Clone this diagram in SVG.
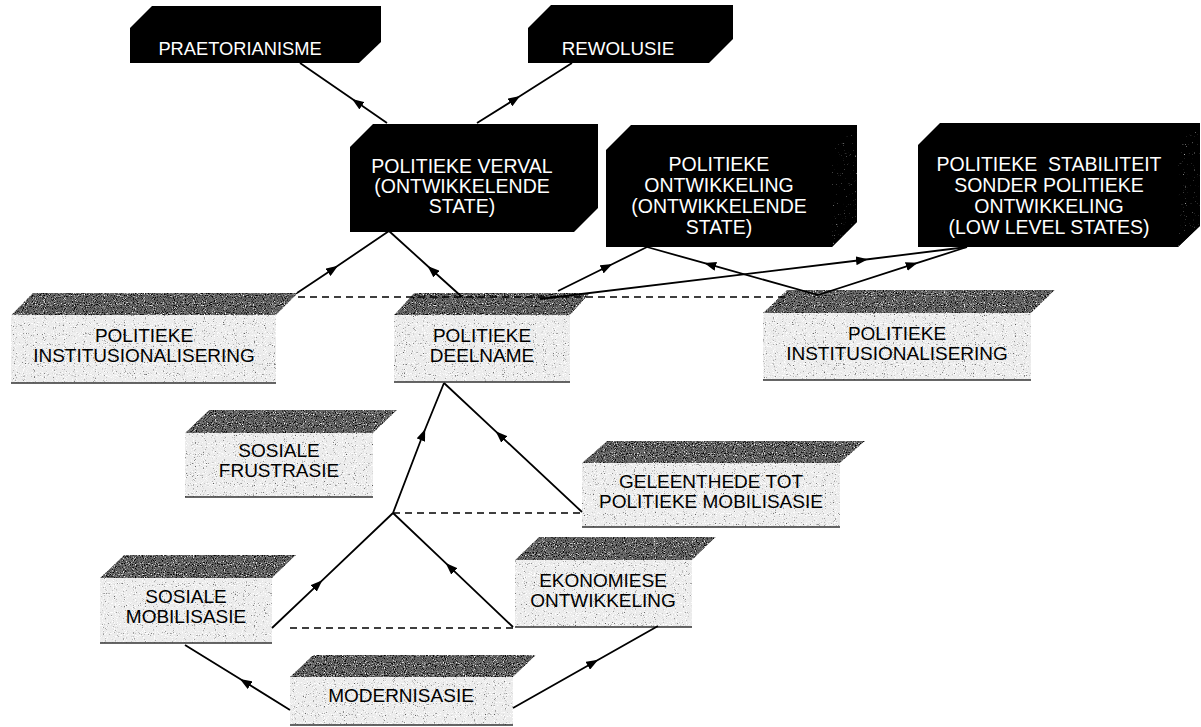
<svg xmlns="http://www.w3.org/2000/svg" width="1201" height="727" viewBox="0 0 1201 727">
<defs>
<style>
.bg{fill:#fff}
.blk{fill:#000}
.side{fill:#000;filter:url(#spS)}
.top{fill:#676767;filter:url(#spD)}
.front{fill:#ebebeb;filter:url(#spL)}
.edge{stroke:#333;stroke-width:1.6;fill:none}
.wt{font-family:"Liberation Sans",Arial,sans-serif;font-size:19.5px;fill:#fff;text-anchor:middle}
.gt{font-family:"Liberation Sans",Arial,sans-serif;font-size:19px;fill:#000;text-anchor:middle}
.con{stroke:#000;stroke-width:1.8;fill:none;marker-mid:url(#arr)}
.dash{stroke:#000;stroke-width:1.5;fill:none;stroke-dasharray:7 5}
</style>
<marker id="arr" viewBox="0 0 12 9" refX="6" refY="4.5" markerWidth="12" markerHeight="9" markerUnits="userSpaceOnUse" orient="auto">
<path d="M0,0 L12,4.5 L0,9 z" fill="#000"/>
</marker>
<filter id="spL" color-interpolation-filters="sRGB">
<feTurbulence type="fractalNoise" baseFrequency="0.9" numOctaves="1" seed="4" result="n"/>
<feColorMatrix in="n" type="matrix" values="0 0 0 0 0.35  0 0 0 0 0.35  0 0 0 0 0.35  6 0 0 0 -3.8" result="d"/>
<feColorMatrix in="n" type="matrix" values="0 0 0 0 1  0 0 0 0 1  0 0 0 0 1  0 6 0 0 -3.2" result="w"/>
<feMerge result="m"><feMergeNode in="SourceGraphic"/><feMergeNode in="w"/><feMergeNode in="d"/></feMerge>
<feComposite in="m" in2="SourceGraphic" operator="in"/>
</filter>
<filter id="spD" color-interpolation-filters="sRGB">
<feTurbulence type="fractalNoise" baseFrequency="0.9" numOctaves="1" seed="7" result="n"/>
<feColorMatrix in="n" type="matrix" values="0 0 0 0 0  0 0 0 0 0  0 0 0 0 0  5 0 0 0 -2.5" result="b"/>
<feColorMatrix in="n" type="matrix" values="0 0 0 0 1  0 0 0 0 1  0 0 0 0 1  0 5 0 0 -2.9" result="w"/>
<feMerge result="m"><feMergeNode in="SourceGraphic"/><feMergeNode in="b"/><feMergeNode in="w"/></feMerge>
<feComposite in="m" in2="SourceGraphic" operator="in"/>
</filter>
<filter id="spS" color-interpolation-filters="sRGB">
<feTurbulence type="fractalNoise" baseFrequency="0.9" numOctaves="1" seed="11" result="n"/>
<feColorMatrix in="n" type="matrix" values="0 0 0 0 0.7  0 0 0 0 0.7  0 0 0 0 0.7  6 0 0 0 -4.1" result="w"/>
<feMerge result="m"><feMergeNode in="SourceGraphic"/><feMergeNode in="w"/></feMerge>
<feComposite in="m" in2="SourceGraphic" operator="in"/>
</filter>
</defs>
<rect class="bg" x="0" y="0" width="1201" height="727"/>

<g id="praetorianisme">
<polygon class="blk" points="130,28 152,6 381,6 381,42 359,63 130,63"/>
<text class="wt" x="240" y="55" style="font-size:18.3px">PRAETORIANISME</text>
</g>
<g id="rewolusie">
<polygon class="blk" points="528,28 551,5 733,5 733,39 709,63 528,63"/>
<text class="wt" x="618" y="55" style="font-size:18.8px">REWOLUSIE</text>
</g>
<g id="politieke-verval">
<polygon class="blk" points="350,147 373,124 598,124 598,208 574,232 350,232"/>
<text class="wt" x="462" y="173">POLITIEKE VERVAL</text>
<text class="wt" x="462" y="193">(ONTWIKKELENDE</text>
<text class="wt" x="462" y="213">STATE)</text>
</g>
<g id="politieke-ontwikkeling">
<polygon class="blk" points="606,150 631,125 857,125 857,222 832,247 606,247"/>
<polygon class="side" points="832,150 857,125 857,222 832,247"/>
<text class="wt" x="719" y="171">POLITIEKE</text>
<text class="wt" x="719" y="192">ONTWIKKELING</text>
<text class="wt" x="719" y="213">(ONTWIKKELENDE</text>
<text class="wt" x="719" y="234">STATE)</text>
</g>
<g id="politieke-stabiliteit">
<polygon class="blk" points="918,145 940,123 1200,123 1200,226 1178,247 918,247"/>
<polygon class="side" points="1178,145 1200,123 1200,226 1178,247"/>
<text class="wt" x="1049" y="171" xml:space="preserve">POLITIEKE  STABILITEIT</text>
<text class="wt" x="1049" y="192">SONDER POLITIEKE</text>
<text class="wt" x="1049" y="213">ONTWIKKELING</text>
<text class="wt" x="1049" y="234">(LOW LEVEL STATES)</text>
</g>

<g id="politieke-institusionalisering-links">
<polygon class="top" points="11,315 33,293 298,293 276,315"/>
<rect class="front" x="11" y="315" width="265" height="68"/>
<line class="edge" x1="11" y1="383" x2="276" y2="383"/>
<text class="gt" x="144" y="342">POLITIEKE</text>
<text class="gt" x="144" y="362">INSTITUSIONALISERING</text>
</g>
<g id="politieke-deelname">
<polygon class="top" points="394,315 414,293 590,293 570,315"/>
<rect class="front" x="394" y="315" width="176" height="67"/>
<line class="edge" x1="394" y1="382" x2="570" y2="382"/>
<text class="gt" x="482" y="342">POLITIEKE</text>
<text class="gt" x="482" y="362">DEELNAME</text>
</g>
<g id="politieke-institusionalisering-regs">
<polygon class="top" points="763,313 787,290 1055,290 1031,313"/>
<rect class="front" x="763" y="313" width="268" height="67"/>
<line class="edge" x1="763" y1="380" x2="1031" y2="380"/>
<text class="gt" x="897" y="340">POLITIEKE</text>
<text class="gt" x="897" y="360">INSTITUSIONALISERING</text>
</g>
<g id="sosiale-frustrasie">
<polygon class="top" points="185,433 209,410 397,410 373,433"/>
<rect class="front" x="185" y="433" width="188" height="64"/>
<line class="edge" x1="185" y1="497" x2="373" y2="497"/>
<text class="gt" x="279" y="457">SOSIALE</text>
<text class="gt" x="279" y="477">FRUSTRASIE</text>
</g>
<g id="geleenthede-tot-politieke-mobilisasie">
<polygon class="top" points="582,463 607,441 865,441 840,463"/>
<rect class="front" x="582" y="463" width="258" height="64"/>
<line class="edge" x1="582" y1="527" x2="840" y2="527"/>
<text class="gt" x="711" y="488">GELEENTHEDE TOT</text>
<text class="gt" x="711" y="508">POLITIEKE MOBILISASIE</text>
</g>
<g id="ekonomiese-ontwikkeling">
<polygon class="top" points="515,560 539,537 716,537 692,560"/>
<rect class="front" x="515" y="560" width="177" height="67"/>
<line class="edge" x1="515" y1="627" x2="692" y2="627"/>
<text class="gt" x="603" y="587">EKONOMIESE</text>
<text class="gt" x="603" y="607">ONTWIKKELING</text>
</g>
<g id="sosiale-mobilisasie">
<polygon class="top" points="100,578 124,555 296,555 272,578"/>
<rect class="front" x="100" y="578" width="172" height="65"/>
<line class="edge" x1="100" y1="643" x2="272" y2="643"/>
<text class="gt" x="186" y="603">SOSIALE</text>
<text class="gt" x="186" y="623">MOBILISASIE</text>
</g>
<g id="modernisasie">
<polygon class="top" points="290,677 313,655 536,655 513,677"/>
<rect class="front" x="290" y="677" width="223" height="48"/>
<line class="edge" x1="290" y1="725" x2="513" y2="725"/>
<text class="gt" x="401" y="702">MODERNISASIE</text>
</g>

<g id="connectors">
<path class="con" d="M387,123 L357,102.3 L300,63"/>
<path class="con" d="M477,123 L515,99.3 L572,63"/>
<path class="con" d="M297,293 L333,269 L389,231"/>
<path class="con" d="M462,297 L432,270 L389,231"/>
<path class="con" d="M558,291 L607,266.7 L647,247"/>
<path class="con" d="M818,295 L710,264.7 L647,247"/>
<path class="con" d="M540,299 L862,260 L967,247"/>
<path class="con" d="M818,295 L912,264.7 L967,247"/>
<path class="con" d="M393,513 L423,434.5 L444,383"/>
<path class="con" d="M582,512 L500,435.3 L444,383"/>
<path class="con" d="M272,628 L318,584.3 L393,513"/>
<path class="con" d="M513,627 L450,567.2 L393,513"/>
<path class="con" d="M290,710 L245,682.1 L185,645"/>
<path class="con" d="M513,708 L593,662.8 L658,626"/>
<line class="dash" x1="298" y1="297" x2="787" y2="297"/>
<line class="dash" x1="393" y1="513" x2="582" y2="513"/>
<line class="dash" x1="290" y1="628" x2="513" y2="628"/>
</g>
</svg>
